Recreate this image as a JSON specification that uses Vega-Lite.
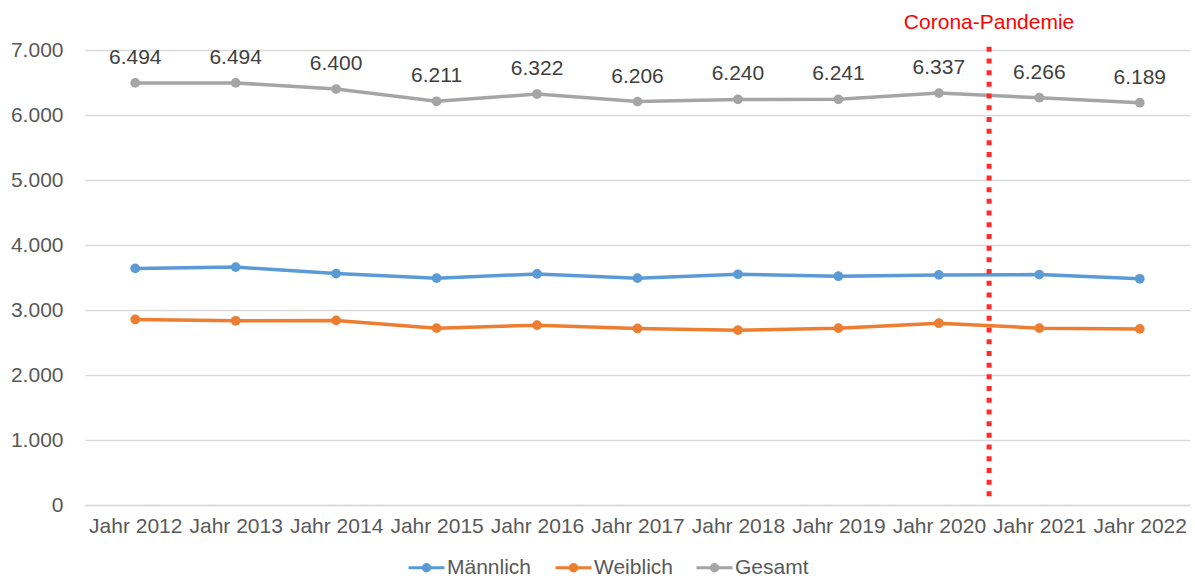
{
  "$schema": "https://vega.github.io/schema/vega-lite/v6.json",
  "width": 1105,
  "height": 455,
  "autosize": "none",
  "padding": {"left": 85, "top": 50, "right": 5, "bottom": 76},
  "background": "white",
  "config": {
    "locale": {"number": {"decimal": ",", "thousands": ".", "grouping": [3], "currency": ["", " €"]}},
    "font": "Liberation Sans",
    "view": {"stroke": null}
  },
  "datasets": {
    "main": [
      {"year": 2012, "group": "Männlich", "value": 3640},
      {"year": 2013, "group": "Männlich", "value": 3660},
      {"year": 2014, "group": "Männlich", "value": 3560},
      {"year": 2015, "group": "Männlich", "value": 3490},
      {"year": 2016, "group": "Männlich", "value": 3555},
      {"year": 2017, "group": "Männlich", "value": 3490},
      {"year": 2018, "group": "Männlich", "value": 3550},
      {"year": 2019, "group": "Männlich", "value": 3520},
      {"year": 2020, "group": "Männlich", "value": 3540},
      {"year": 2021, "group": "Männlich", "value": 3545},
      {"year": 2022, "group": "Männlich", "value": 3480},
      {"year": 2012, "group": "Weiblich", "value": 2854},
      {"year": 2013, "group": "Weiblich", "value": 2834},
      {"year": 2014, "group": "Weiblich", "value": 2840},
      {"year": 2015, "group": "Weiblich", "value": 2721},
      {"year": 2016, "group": "Weiblich", "value": 2767},
      {"year": 2017, "group": "Weiblich", "value": 2716},
      {"year": 2018, "group": "Weiblich", "value": 2690},
      {"year": 2019, "group": "Weiblich", "value": 2721},
      {"year": 2020, "group": "Weiblich", "value": 2797},
      {"year": 2021, "group": "Weiblich", "value": 2721},
      {"year": 2022, "group": "Weiblich", "value": 2709},
      {"year": 2012, "group": "Gesamt", "value": 6494},
      {"year": 2013, "group": "Gesamt", "value": 6494},
      {"year": 2014, "group": "Gesamt", "value": 6400},
      {"year": 2015, "group": "Gesamt", "value": 6211},
      {"year": 2016, "group": "Gesamt", "value": 6322},
      {"year": 2017, "group": "Gesamt", "value": 6206},
      {"year": 2018, "group": "Gesamt", "value": 6240},
      {"year": 2019, "group": "Gesamt", "value": 6241},
      {"year": 2020, "group": "Gesamt", "value": 6337},
      {"year": 2021, "group": "Gesamt", "value": 6266},
      {"year": 2022, "group": "Gesamt", "value": 6189}
    ],
    "marker": [
      {"year": 2020.5, "top": 7050, "bottom": 80, "label": "Corona-Pandemie", "labelpos": 7000}
    ]
  },
  "layer": [
    {
      "data": {"name": "main"},
      "mark": {"type": "line", "strokeWidth": 3.5, "point": {"filled": true, "size": 95}},
      "encoding": {
        "x": {
          "field": "year", "type": "quantitative",
          "scale": {"domain": [2011.5, 2022.5], "nice": false, "zero": false},
          "axis": {
            "title": null,
            "values": [2012, 2013, 2014, 2015, 2016, 2017, 2018, 2019, 2020, 2021, 2022],
            "labelExpr": "'Jahr ' + datum.value",
            "grid": false, "ticks": false,
            "domainColor": "#d9d9d9", "domainWidth": 1.5,
            "labelFontSize": 21, "labelColor": "#595959", "labelPadding": 10,
            "labelFlush": false, "labelOverlap": false
          }
        },
        "y": {
          "field": "value", "type": "quantitative",
          "scale": {"domain": [0, 7000], "nice": false},
          "axis": {
            "title": null,
            "values": [0, 1000, 2000, 3000, 4000, 5000, 6000, 7000],
            "format": ",d",
            "domain": false, "ticks": false,
            "gridColor": "#d9d9d9", "gridWidth": 1.5,
            "labelFontSize": 21, "labelColor": "#595959", "labelPadding": 22
          }
        },
        "color": {
          "field": "group", "type": "nominal",
          "scale": {"domain": ["Männlich", "Weiblich", "Gesamt"], "range": ["#5b9bd5", "#ed7d31", "#a5a5a5"]},
          "legend": {
            "title": null, "orient": "none", "direction": "horizontal",
            "legendX": 322, "legendY": 498,
            "labelFontSize": 21, "labelColor": "#595959",
            "symbolType": "M-1,0L1,0M-0.18,0A0.18,0.18 0 1,0 0.18,0A0.18,0.18 0 1,0 -0.18,0",
            "symbolSize": 1296, "symbolStrokeWidth": 3,
            "labelOffset": 1, "columnPadding": 17
          }
        }
      }
    },
    {
      "data": {"name": "main"},
      "transform": [{"filter": "datum.group == 'Gesamt'"}],
      "mark": {"type": "text", "fontSize": 21, "color": "#404040", "baseline": "middle", "dy": -25},
      "encoding": {
        "x": {"field": "year", "type": "quantitative"},
        "y": {"field": "value", "type": "quantitative"},
        "text": {"field": "value", "type": "quantitative", "format": ",d"}
      }
    },
    {
      "data": {"name": "marker"},
      "mark": {"type": "rule", "color": "#ff2b2b", "strokeWidth": 5, "strokeDash": [5, 6.7]},
      "encoding": {
        "x": {"field": "year", "type": "quantitative"},
        "y": {"field": "top", "type": "quantitative"},
        "y2": {"field": "bottom"}
      }
    },
    {
      "data": {"name": "marker"},
      "mark": {"type": "text", "fontSize": 21, "color": "#ff0000", "baseline": "middle", "dy": -27},
      "encoding": {
        "x": {"field": "year", "type": "quantitative"},
        "y": {"field": "labelpos", "type": "quantitative"},
        "text": {"field": "label"}
      }
    }
  ]
}
